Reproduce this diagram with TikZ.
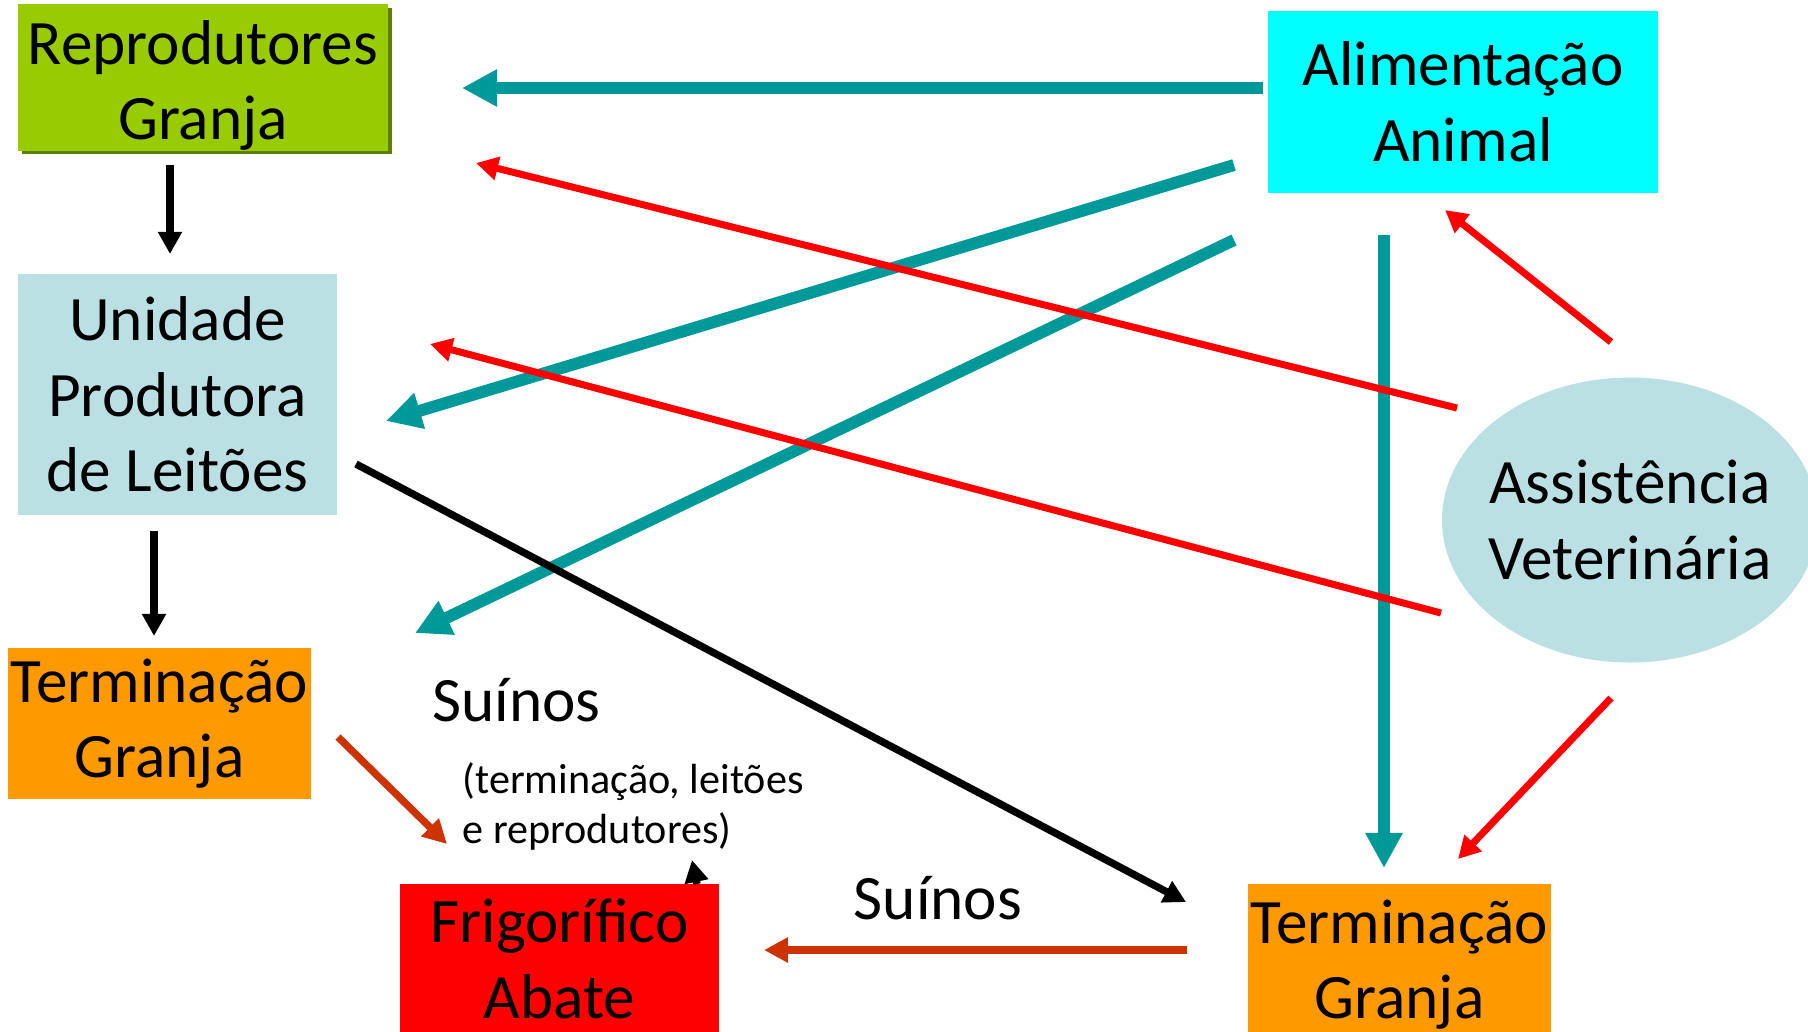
\documentclass[tikz,border=0pt]{standalone}
\usepackage{fontspec}
\setmainfont{Carlito}
\usetikzlibrary{arrows.meta,shapes,shadows}
\definecolor{granjagreen}{HTML}{99CC00}
\definecolor{shadowgreen}{HTML}{5F7F00}
\definecolor{feedcyan}{HTML}{00FFFF}
\definecolor{paleblue}{HTML}{BBE0E3}
\definecolor{termorange}{HTML}{FF9900}
\definecolor{slaughterred}{HTML}{FF0000}
\definecolor{tealarrow}{HTML}{009999}
\definecolor{rustarrow}{HTML}{CC3300}

\tikzset{
  box/.style={rectangle,inner sep=0pt,align=center,font=\fontsize{18}{21.5}\selectfont},
  feed/.style={draw=tealarrow,line width=3.4pt,-{Triangle[length=10pt,width=10pt]}},
  vetline/.style={draw=red,line width=2pt,-{Triangle[length=6.3pt,width=6.5pt]}},
  flow/.style={draw=black,line width=2.1pt,-{Triangle[length=6.3pt,width=6.5pt]}},
  sale/.style={draw=rustarrow,line width=2.1pt,-{Triangle[length=6.8pt,width=6.8pt]}}
}

\begin{document}
\begin{tikzpicture}[x=0.1mm,y=-0.1mm]
\useasboundingbox (0,0) rectangle (1808,1031);

% boxes
\node[box,fill=granjagreen,minimum width=37mm,minimum height=14.1mm,
  drop shadow={shadow xshift=1.1pt,shadow yshift=-1.1pt,fill=shadowgreen,opacity=1}]
  (repro) at (203,77.5) {\rule{0pt}{17pt}Reprodutores\\Granja};
\node[box,fill=feedcyan,minimum width=39mm,minimum height=18.2mm] (alim) at (1463,102) {Alimentação\\Animal};
\node[box,fill=paleblue,minimum width=31.9mm,minimum height=24.1mm] (upl) at (177.5,394.5) {Unidade\\Produtora\\de Leitões};
\node[box,fill=termorange,minimum width=30.3mm,minimum height=15.1mm] (terma) at (159.5,723.5) {Terminação\\Granja};
\node[box,fill=slaughterred,minimum width=31.9mm,minimum height=15mm] (frig) at (559.5,959) {Frigorífico\\Abate};
\node[box,fill=termorange,minimum width=30.3mm,minimum height=16.1mm] (termb) at (1399.5,964.5) {Terminação\\Granja};
\node[box,ellipse,inner xsep=-1.5mm,fill=paleblue,minimum width=37.6mm,minimum height=28.5mm] (vet) at (1630,520) {Assistência\\Veterinária};

% labels
\node[inner sep=0pt,anchor=base west,font=\fontsize{18}{21.5}\selectfont] (suinosa) at (432,721) {Suínos};
\node[inner sep=0pt,anchor=north west,align=left,font=\fontsize{12}{14.2}\selectfont] (tipos) at (462,762) {(terminação, leitões\\e reprodutores)};
\node[inner sep=0pt,anchor=base,font=\fontsize{18}{21.5}\selectfont] (suinosb) at (938,919) {Suínos};

% arrow ends
\coordinate (f1s) at (1263,88);   \coordinate (f1e) at (462,88);
\coordinate (f2s) at (1234,165);  \coordinate (f2e) at (386,421);
\coordinate (f3s) at (1234,240);  \coordinate (f3e) at (415,633);
\coordinate (f4s) at (1384,235);  \coordinate (f4e) at (1384,868);
\coordinate (v1s) at (1457,408);  \coordinate (v1e) at (476,163);
\coordinate (v2s) at (1441,613);  \coordinate (v2e) at (430,344);
\coordinate (v3s) at (1611,342);  \coordinate (v3e) at (1445,210);
\coordinate (v4s) at (1611,698);  \coordinate (v4e) at (1458,859);
\coordinate (b1s) at (170,165);   \coordinate (b1e) at (170,254);
\coordinate (b2s) at (154,531);   \coordinate (b2e) at (154,636);
\coordinate (b3s) at (356,464);   \coordinate (b3e) at (1186,902);
\coordinate (b4s) at (697,884);   \coordinate (b4e) at (692,860);
\coordinate (s1s) at (338,737);   \coordinate (s1e) at (447,844);
\coordinate (s2s) at (1187,950);  \coordinate (s2e) at (764,950);

% feed
\draw[feed] (f1s) -- (f1e);
\draw[feed] (f2s) -- (f2e);
\draw[feed] (f3s) -- (f3e);
\draw[feed] (f4s) -- (f4e);
% veterinary
\draw[vetline] (v1s) -- (v1e);
\draw[vetline] (v2s) -- (v2e);
\draw[vetline] (v3s) -- (v3e);
\draw[vetline] (v4s) -- (v4e);
% animals
\draw[flow] (b1s) -- (b1e);
\draw[flow] (b2s) -- (b2e);
\draw[flow] (b3s) -- (b3e);
\draw[flow] (b4s) -- (b4e);
\draw[sale] (s1s) -- (s1e);
\draw[sale] (s2s) -- (s2e);
\end{tikzpicture}
\end{document}
